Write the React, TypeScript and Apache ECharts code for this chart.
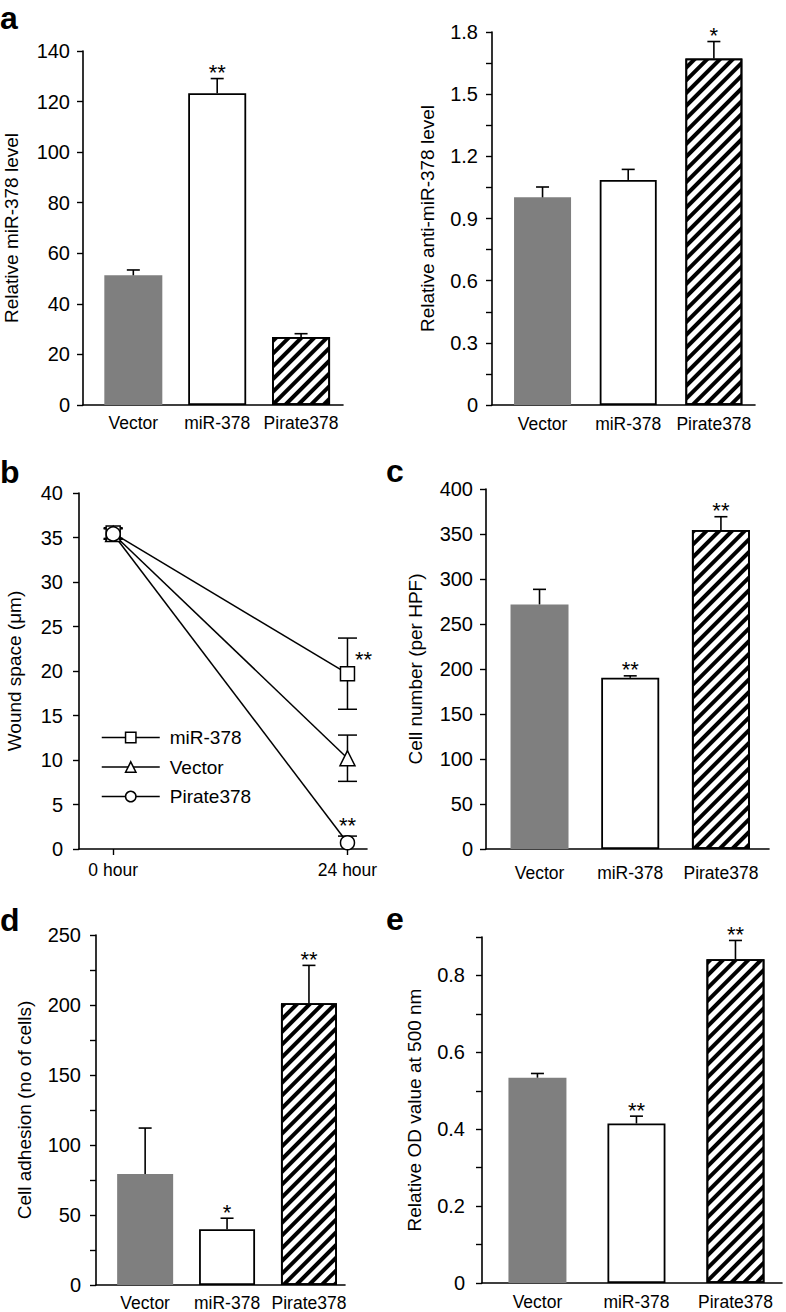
import React, { useEffect, useRef } from 'react';
import * as echarts from 'echarts';

// ---------- data ----------
const groups = ['Vector', 'miR-378', 'Pirate378'];

// a (left)
const mirLevel = [51.3, 123.3, 26.9];
const mirLevelErr = [2.1, 5.8, 1.3];
const mirLevelSig = ['', '**', ''];

// a (right)
const antiMirLevel = [1.002, 1.086, 1.672];
const antiMirLevelErr = [0.05, 0.051, 0.082];
const antiMirLevelSig = ['', '', '*'];

// b
const hours = [0, 24];
const hourLabels = ['0 hour', '24 hour'];
const woundNames = ['miR-378', 'Vector', 'Pirate378'];
const woundMir = [35.5, 19.7];
const woundMirErr = [0.6, 4.0];
const woundMirSig = ['', '**'];
const woundVector = [35.4, 10.2];
const woundVectorErr = [0.6, 2.6];
const woundVectorSig = ['', ''];
const woundPirate = [35.4, 0.7];
const woundPirateErr = [0.6, 0.75];
const woundPirateSig = ['', '**'];

// c
const cellNumber = [271.8, 190.2, 354.4];
const cellNumberErr = [16.7, 2.2, 14.8];
const cellNumberSig = ['', '**', '**'];

// d
const cellAdhesion = [79.2, 39.9, 201.3];
const cellAdhesionErr = [32.9, 7.8, 27.0];
const cellAdhesionSig = ['', '*', '**'];

// e
const odValue = [0.534, 0.415, 0.842];
const odValueErr = [0.011, 0.019, 0.049];
const odValueSig = ['', '**', '**'];

// ---------- styles / layout ----------
const FONT = "'Liberation Sans', Arial, Helvetica, sans-serif";
const BLACK = '#000';
const STAR_SIZE = 22;

const barStyles: any[] = [
  { color: '#7f7f7f', borderWidth: 0 },
  { color: '#ffffff', borderColor: BLACK, borderWidth: 1.8 },
  {
    color: '#ffffff',
    borderColor: BLACK,
    borderWidth: 1.8,
    decal: {
      symbol: 'rect',
      symbolSize: 1,
      dashArrayX: [1, 0],
      dashArrayY: [4, 4.5],
      rotation: -Math.PI / 4,
      color: BLACK,
    },
  },
];

type BarPanel = {
  grid: { left: number; top: number; width: number; height: number };
  xMin: number;
  xMax: number;
  yMax: number;
  tick: number;
  labelStep: number;
  title: string;
  nameGap: number;
  yLabelMargin: number;
  xLabelMargin: number;
  barWidth: number;
  values: number[];
  errors: number[];
  sig: string[];
};

const barPanels: BarPanel[] = [
  {
    grid: { left: 83, top: 51, width: 260, height: 354 },
    xMin: -0.6, xMax: 2.5, yMax: 140, tick: 20, labelStep: 20,
    title: 'Relative miR-378 level', nameGap: 62, yLabelMargin: 13, xLabelMargin: 9, barWidth: 58,
    values: mirLevel, errors: mirLevelErr, sig: mirLevelSig,
  },
  {
    grid: { left: 492, top: 32, width: 263, height: 373 },
    xMin: -0.59, xMax: 2.48, yMax: 1.8, tick: 0.15, labelStep: 0.3,
    title: 'Relative anti-miR-378 level', nameGap: 55, yLabelMargin: 14, xLabelMargin: 10, barWidth: 57,
    values: antiMirLevel, errors: antiMirLevelErr, sig: antiMirLevelSig,
  },
  {
    grid: { left: 486, top: 489, width: 283, height: 360 },
    xMin: -0.59, xMax: 2.53, yMax: 400, tick: 50, labelStep: 50,
    title: 'Cell number (per HPF)', nameGap: 61, yLabelMargin: 13, xLabelMargin: 15, barWidth: 58,
    values: cellNumber, errors: cellNumberErr, sig: cellNumberSig,
  },
  {
    grid: { left: 96, top: 935, width: 249, height: 350 },
    xMin: -0.6, xMax: 2.44, yMax: 250, tick: 25, labelStep: 50,
    title: 'Cell adhesion (no of cells)', nameGap: 62, yLabelMargin: 15, xLabelMargin: 9, barWidth: 56,
    values: cellAdhesion, errors: cellAdhesionErr, sig: cellAdhesionSig,
  },
  {
    grid: { left: 482, top: 937, width: 300, height: 346 },
    xMin: -0.56, xMax: 2.47, yMax: 0.9, tick: 0.1, labelStep: 0.2,
    title: 'Relative OD value at 500 nm', nameGap: 58, yLabelMargin: 17, xLabelMargin: 10, barWidth: 58,
    values: odValue, errors: odValueErr, sig: odValueSig,
  },
];

const woundGrid = { left: 79, top: 493, width: 288, height: 356 };

const axisLineStyle = { color: BLACK, width: 1.6 };

function isMultiple(v: number, step: number) {
  const r = v / step;
  return Math.abs(r - Math.round(r)) < 1e-6;
}

function fmt(v: number) {
  return String(parseFloat(v.toFixed(3)));
}

function yAxisFor(gi: number, max: number, tick: number, labelStep: number, title: string, nameGap: number, margin: number) {
  return {
    type: 'value',
    gridIndex: gi,
    min: 0,
    max,
    interval: tick,
    name: title,
    nameLocation: 'middle',
    nameRotate: 90,
    nameGap,
    nameMoveOverlap: false,
    nameTextStyle: { fontSize: 19, color: BLACK, fontFamily: FONT },
    axisLine: { show: true, onZero: false, lineStyle: axisLineStyle },
    axisTick: { show: true, inside: false, length: 6, lineStyle: { color: BLACK, width: 1.4 } },
    axisLabel: {
      show: true,
      fontSize: 20,
      color: BLACK,
      fontFamily: FONT,
      margin,
      formatter: (v: number) => (isMultiple(v, labelStep) ? fmt(v) : ''),
    },
    splitLine: { show: false },
  };
}

function starText(x: number, y: number, s: string) {
  return {
    type: 'text',
    x,
    y,
    style: { text: s, fill: BLACK, fontSize: STAR_SIZE, fontFamily: FONT, align: 'center', verticalAlign: 'middle' },
  };
}

function barErrorRender(sig: string[]) {
  return (params: any, api: any) => {
    const x = api.value(0);
    const y = api.value(1);
    const e = api.value(2);
    const base = api.coord([x, y]);
    const top = api.coord([x, y + e]);
    const ls = { stroke: BLACK, lineWidth: 1.6 };
    const children: any[] = [
      { type: 'line', shape: { x1: base[0], y1: base[1], x2: top[0], y2: top[1] }, style: ls },
      { type: 'line', shape: { x1: top[0] - 6.5, y1: top[1], x2: top[0] + 6.5, y2: top[1] }, style: ls },
    ];
    const s = sig[params.dataIndex];
    if (s) children.push(starText(top[0], top[1] - 6, s));
    return { type: 'group', children };
  };
}

function lineErrorRender(sig: string[], dx: number, dy: number, fromTop: boolean) {
  return (params: any, api: any) => {
    const x = api.value(0);
    const y = api.value(1);
    const e = api.value(2);
    const lowVal = Math.max(y - e, 0);
    const c = api.coord([x, y]);
    const hi = api.coord([x, y + e]);
    const lo = api.coord([x, lowVal]);
    const ls = { stroke: BLACK, lineWidth: 1.5 };
    const cap = 9.5;
    const children: any[] = [
      { type: 'line', shape: { x1: lo[0], y1: lo[1], x2: hi[0], y2: hi[1] }, style: ls },
      { type: 'line', shape: { x1: hi[0] - cap, y1: hi[1], x2: hi[0] + cap, y2: hi[1] }, style: ls },
    ];
    if (y - e > 0) {
      children.push({ type: 'line', shape: { x1: lo[0] - cap, y1: lo[1], x2: lo[0] + cap, y2: lo[1] }, style: ls });
    }
    const s = sig[params.dataIndex];
    if (s) {
      const ref = fromTop ? hi : c;
      children.push(starText(ref[0] + dx, ref[1] + dy, s));
    }
    return { type: 'group', children };
  };
}

function buildOption() {
  const grids: any[] = [];
  const xAxes: any[] = [];
  const yAxes: any[] = [];
  const series: any[] = [];

  barPanels.forEach((p, gi) => {
    grids.push({ ...p.grid, containLabel: false, outerBoundsMode: 'none' });
    xAxes.push({
      type: 'value',
      gridIndex: gi,
      min: p.xMin,
      max: p.xMax,
      axisLine: { show: true, onZero: false, lineStyle: axisLineStyle },
      axisTick: { show: false },
      splitLine: { show: false },
      axisLabel: {
        show: true,
        customValues: groups.map((_, i) => i),
        formatter: (v: number) => groups[Math.round(v)] ?? '',
        fontSize: 17.5,
        color: BLACK,
        fontFamily: FONT,
        margin: p.xLabelMargin,
      },
    });
    yAxes.push(yAxisFor(gi, p.yMax, p.tick, p.labelStep, p.title, p.nameGap, p.yLabelMargin));
    series.push({
      type: 'bar',
      xAxisIndex: gi,
      yAxisIndex: gi,
      barWidth: p.barWidth,
      data: groups.map((_, i) => ({ value: [i, p.values[i]], itemStyle: barStyles[i] })),
      z: 2,
    });
    series.push({
      type: 'custom',
      xAxisIndex: gi,
      yAxisIndex: gi,
      renderItem: barErrorRender(p.sig),
      encode: { x: 0, y: 1 },
      data: groups.map((_, i) => [i, p.values[i], p.errors[i]]),
      z: 3,
    });
  });

  // panel b
  const bi = barPanels.length;
  grids.push({ ...woundGrid, containLabel: false, outerBoundsMode: 'none' });
  xAxes.push({
    type: 'value',
    gridIndex: bi,
    min: -3.5,
    max: 26,
    axisLine: { show: true, onZero: false, lineStyle: axisLineStyle },
    axisTick: { show: true, customValues: hours, length: 6, lineStyle: { color: BLACK, width: 1.4 } },
    splitLine: { show: false },
    axisLabel: {
      show: true,
      customValues: hours,
      formatter: (v: number) => hourLabels[hours.indexOf(v)] ?? '',
      fontSize: 17.5,
      color: BLACK,
      fontFamily: FONT,
      margin: 12,
    },
  });
  yAxes.push(yAxisFor(bi, 40, 5, 5, 'Wound space (\u03bcm)', 55, 16));

  const wound = [
    { name: woundNames[0], vals: woundMir, errs: woundMirErr, sig: woundMirSig, symbol: 'rect', size: 14, dx: 16, dy: -14, fromTop: false },
    { name: woundNames[1], vals: woundVector, errs: woundVectorErr, sig: woundVectorSig, symbol: 'triangle', size: 15, dx: 0, dy: 0, fromTop: false },
    { name: woundNames[2], vals: woundPirate, errs: woundPirateErr, sig: woundPirateSig, symbol: 'circle', size: 14, dx: 0, dy: -11, fromTop: true },
  ];
  wound.forEach((w) => {
    series.push({
      type: 'custom',
      xAxisIndex: bi,
      yAxisIndex: bi,
      renderItem: lineErrorRender(w.sig, w.dx, w.dy, w.fromTop),
      encode: { x: 0, y: 1 },
      data: hours.map((h, i) => [h, w.vals[i], w.errs[i]]),
      z: 2,
    });
  });
  wound.forEach((w) => {
    series.push({
      type: 'line',
      name: w.name,
      xAxisIndex: bi,
      yAxisIndex: bi,
      data: hours.map((h, i) => [h, w.vals[i]]),
      symbol: w.symbol,
      symbolSize: w.size,
      lineStyle: { color: BLACK, width: 1.5 },
      itemStyle: { color: '#ffffff', borderColor: BLACK, borderWidth: 1.5 },
      z: 4,
    });
  });

  const panelLabel = (t: string, x: number, y: number) => ({
    type: 'text',
    x,
    y,
    style: { text: t, fill: BLACK, fontSize: 32, fontWeight: 'bold', fontFamily: FONT, verticalAlign: 'middle' },
  });

  return {
    animation: false,
    backgroundColor: '#ffffff',
    textStyle: { fontFamily: FONT },
    grid: grids,
    xAxis: xAxes,
    yAxis: yAxes,
    series,
    legend: {
      show: true,
      orient: 'vertical',
      left: 101,
      top: 728,
      padding: 0,
      itemWidth: 58,
      itemHeight: 13,
      itemGap: 10.5,
      selectedMode: false,
      data: woundNames,
      itemStyle: { color: '#ffffff', borderColor: BLACK, borderWidth: 1.5 },
      lineStyle: { color: BLACK, width: 1.5 },
      textStyle: { fontSize: 19, color: BLACK, fontFamily: FONT, padding: [0, 0, 0, 5] },
    },
    graphic: [
      panelLabel('a', 0, 18),
      panelLabel('b', 0, 472),
      panelLabel('c', 386, 471),
      panelLabel('d', 0, 920),
      panelLabel('e', 386, 919),
    ],
  };
}

export default function App() {
  const ref = useRef<HTMLDivElement>(null);
  useEffect(() => {
    if (!ref.current) return;
    const chart = echarts.init(ref.current, undefined, { renderer: 'svg' });
    chart.setOption(buildOption() as any);
    return () => chart.dispose();
  }, []);
  return (
    <div
      ref={ref}
      style={{ position: 'absolute', left: 0, top: 0, width: 786, height: 1312, background: '#fff' }}
    />
  );
}
